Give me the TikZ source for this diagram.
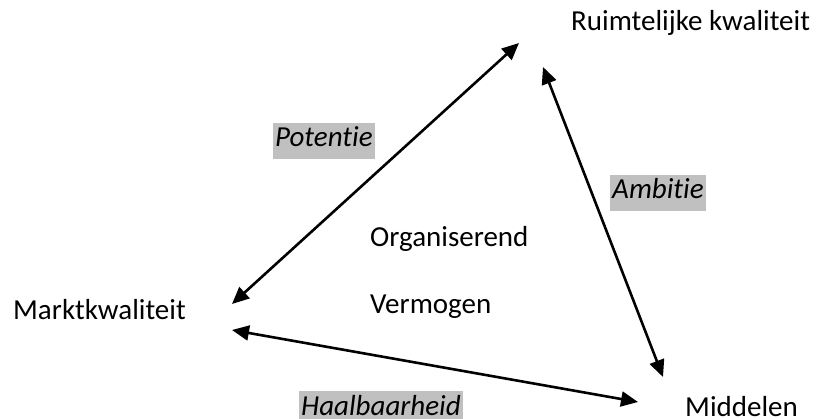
\documentclass[tikz,border=0pt]{standalone}
\usepackage{fontspec}
\setmainfont{Carlito}[Ligatures=NoCommon]
\usetikzlibrary{arrows.meta}
\definecolor{labelgray}{RGB}{192,192,192}
\begin{document}
\begin{tikzpicture}[x=1pt,y=-1pt,
  lbl/.style={font=\fontsize{29}{34}\selectfont, inner sep=0pt, anchor=base west},
  tag/.style={font=\fontsize{29}{34}\selectfont\itshape, fill=labelgray, anchor=base west,
    inner xsep=2pt, inner ysep=0pt, text height=24pt, text depth=12pt},
  link/.style={line width=2.6pt, {Triangle[length=17pt,width=15pt]}-{Triangle[length=17pt,width=15pt]}}]
  \useasboundingbox (0,0) rectangle (818,419);

  % corner labels
  \node[lbl] (rk) at (571,31) {Ruimtelijke kwaliteit};
  \node[lbl] (mk) at (13,319) {Marktkwaliteit};
  \node[lbl] (md) at (685,416) {Middelen};
  \node[lbl] (org) at (370,247) {Organiserend};
  \node[lbl] (verm) at (370,313) {Vermogen};

  % arrow end points
  \coordinate (pa) at (232,304);
  \coordinate (pb) at (519,43);
  \coordinate (aa) at (543,67);
  \coordinate (ab) at (663,377);
  \coordinate (ha) at (232,330);
  \coordinate (hb) at (638,402);

  \draw[link] (pa) -- (pb);
  \draw[link] (aa) -- (ab);
  \draw[link] (ha) -- (hb);

  % edge labels
  \node[tag] (pot) at (273,147) {Potentie};
  \node[tag] (amb) at (610,199) {Ambitie};
  \node[tag] (haal) at (299,415) {Haalbaarheid};
\end{tikzpicture}
\end{document}
